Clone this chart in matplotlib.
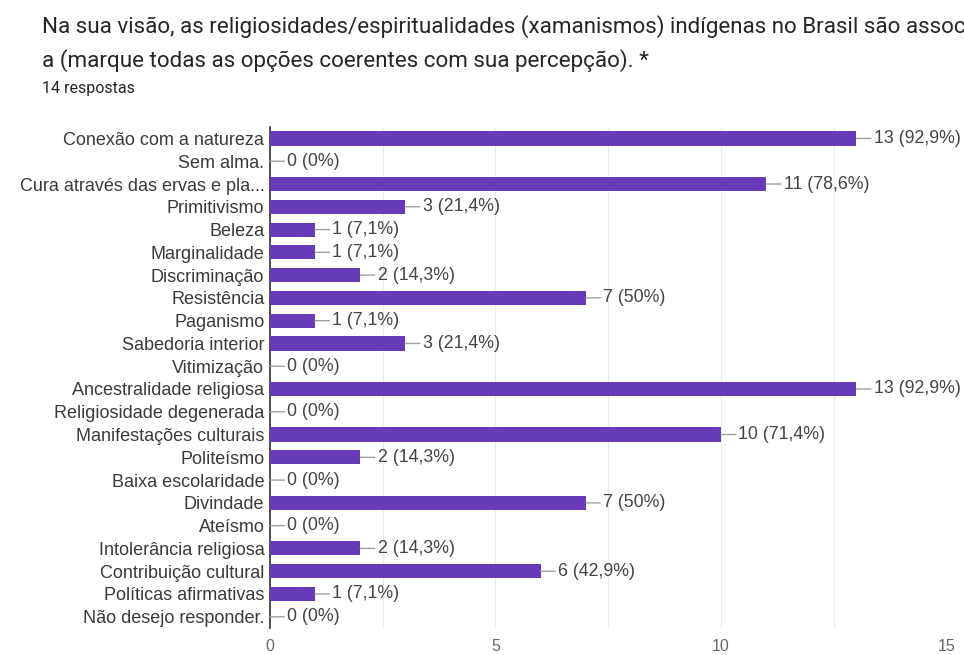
import matplotlib.pyplot as plt
import numpy as np

# respostas por opção (total de 14 respostas)
opcoes = ['Conexão com a natureza', 'Sem alma.', 'Cura através das ervas e pla...',
          'Primitivismo', 'Beleza', 'Marginalidade', 'Discriminação', 'Resistência',
          'Paganismo', 'Sabedoria interior', 'Vitimização', 'Ancestralidade religiosa',
          'Religiosidade degenerada', 'Manifestações culturais', 'Politeísmo',
          'Baixa escolaridade', 'Divindade', 'Ateísmo', 'Intolerância religiosa',
          'Contribuição cultural', 'Políticas afirmativas', 'Não desejo responder.']
contagens = [13, 0, 11, 3, 1, 1, 2, 7, 1, 3, 0, 13, 0, 10, 2, 0, 7, 0, 2, 6, 1, 0]
porcentagens = ['92,9%', '0%', '78,6%', '21,4%', '7,1%', '7,1%', '14,3%', '50%',
                '7,1%', '21,4%', '0%', '92,9%', '0%', '71,4%', '14,3%', '0%', '50%',
                '0%', '14,3%', '42,9%', '7,1%', '0%']
total = 14

roxo = '#673ab7'
fonte = 'Liberation Sans'

fig = plt.figure(figsize=(9.64, 6.55), dpi=100)
ax = fig.add_axes([0.280, 0.041, 0.702, 0.765])

y = np.arange(len(opcoes))
ax.barh(y, contagens, height=0.62, color=roxo, zorder=3)

# rótulo com traço saindo da ponta da barra
for yi, c, p in zip(y, contagens, porcentagens):
    ax.annotate(f'{c} ({p})', xy=(c, yi), xytext=(12.5, 0), textcoords='offset points',
                ha='left', va='center', fontsize=12.8, family=fonte, color='#444444',
                arrowprops=dict(arrowstyle='-', color='#a0a0a0', lw=1,
                                shrinkA=0, shrinkB=0))

ax.set_xlim(0, 15)
ax.set_ylim(len(opcoes) - 0.5, -0.5)
ax.set_xticks([0, 5, 10, 15])
ax.set_xticks(np.arange(0, 15.1, 2.5), minor=True)
ax.grid(axis='x', which='both', color='#ececec', lw=0.8, zorder=0)
ax.set_yticks(y)
ax.set_yticklabels(opcoes, family=fonte, fontsize=13, color='#3a3a3a')
ax.tick_params(axis='y', length=0, pad=4)
ax.tick_params(axis='x', which='both', length=0, pad=8, labelsize=11.5,
               labelcolor='#666666')
for lbl in ax.get_xticklabels():
    lbl.set_family(fonte)
for s in ['top', 'right', 'bottom']:
    ax.spines[s].set_visible(False)
ax.spines['left'].set_color('#333333')
ax.spines['left'].set_linewidth(1.2)

# cabeçalho da pergunta (a primeira linha passa da borda)
fig.text(0.044, 1 - 33 / 655, 'Na sua visão, as religiosidades/espiritualidades (xamanismos) '
         'indígenas no Brasil são associadas', family='Roboto', fontsize=16.15,
         color='#262626', va='baseline')
fig.text(0.044, 1 - 67 / 655, 'a (marque todas as opções coerentes com sua percepção). *',
         family='Roboto', fontsize=16.15, color='#262626', va='baseline')
fig.text(0.044, 1 - 93 / 655, f'{total} respostas', family='Roboto', fontsize=11.5,
         color='#262626', va='baseline')

fig.savefig('out.png', dpi=100)
